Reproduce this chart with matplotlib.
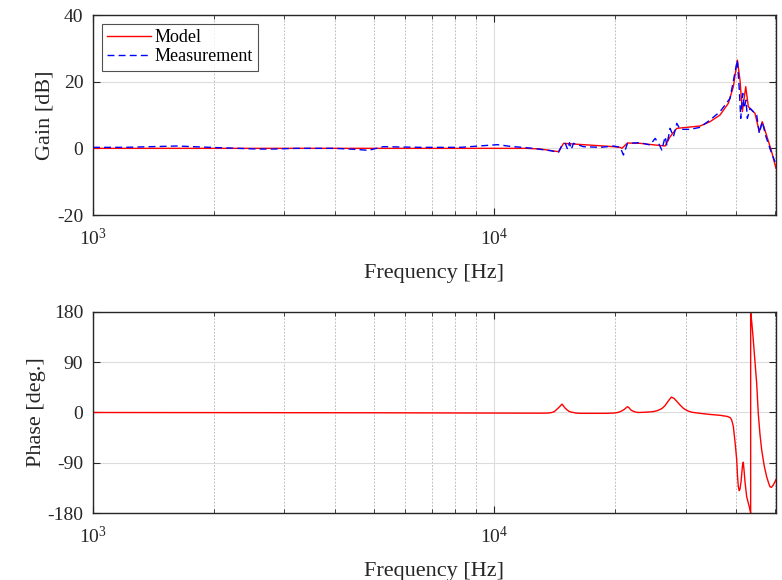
import matplotlib
matplotlib.use("Agg")
import matplotlib.pyplot as plt
from matplotlib.ticker import NullFormatter

# Gain model [Hz], [dB]
model_freq = [1000, 2000, 5000, 10000, 12000, 13010, 14450, 14870, 15750, 19810,
              20580, 20780, 21460, 23080, 25150, 26630, 27410, 28480, 30160, 32540,
              34450, 36490, 38270, 39390, 40300, 40920, 41470, 42290, 42920, 43750,
              44590, 45710, 46490, 47490, 49060, 50300]
model_gain = [0.0, 0.0, 0.0, 0.0, 0.0, -0.2, -1.0, 1.5, 1.3, 0.5,
              0.3, 0.0, 1.6, 1.5, 1.0, 0.7, 3.5, 6.0, 6.3, 6.7,
              8.0, 10.0, 13.5, 18.5, 26.5, 20.5, 11.0, 18.5, 12.5, 11.5,
              10.5, 5.0, 8.0, 4.5, -1.0, -6.0]

# Gain measurement
meas_freq = [1000, 1200, 1617, 1958, 2560, 2810, 3220, 3500, 4000, 4500,
             4850, 5290, 6540, 8230, 10170, 10960, 12500, 13010, 13790, 14450,
             14740, 15020, 15220, 15390, 15540, 15750, 16680, 18350, 19810, 20580,
             20970, 21460, 23080, 24430, 25150, 25780, 26130, 26630, 26890, 27410,
             27930, 28480, 29020, 30720, 32540, 34450, 36490, 38650, 40300, 40760,
             41090, 41560, 41880, 42360, 42680, 43340, 44160, 45030, 45710, 46490,
             47490, 49060, 50000]
meas_gain = [0.3, 0.3, 0.7, 0.3, -0.2, -0.2, 0.0, 0.0, 0.0, -0.3,
             -0.6, 0.5, 0.3, 0.3, 1.1, 0.6, 0.0, -0.3, -0.7, -1.2,
             1.0, 1.5, -0.3, 1.7, -0.3, 1.5, 0.5, 0.3, 0.7, 0.3,
             -2.0, 1.5, 1.7, 1.0, 3.0, 1.0, -0.5, 3.5, 1.0, 6.0,
             3.5, 7.5, 5.7, 5.7, 6.3, 8.5, 11.0, 15.0, 26.5, 17.5,
             9.0, 16.5, 12.0, 14.5, 9.0, 12.0, 11.0, 10.0, 4.5, 8.0,
             3.5, -1.5, -4.0]

# Phase model [deg]
phase_freq = [1000, 5000, 10000, 13000, 13600, 13900, 14100, 14300, 14500, 14650,
              14740, 14850, 15000, 15150, 15350, 15590, 16000, 16380, 19000, 19810,
              20300, 20580, 20850, 21060, 21300, 21460, 21650, 21850, 22000, 22400,
              22830, 23800, 24850, 25500, 26130, 26600, 27080, 27600, 28000, 28480,
              29000, 29620, 30300, 31020, 32540, 34450, 36490, 38000, 38650, 39000,
              39390, 39800, 40160, 40350, 40530, 40750, 40920, 41150, 41330, 41500,
              41700, 41900, 42110, 42520, 43160, 43500, 43500, 43800, 44160, 44600,
              45030, 45440, 45900, 46340, 47000, 47680, 48200, 48590, 49000, 49520,
              50000, 50490]
phase_deg = [0.0, -0.5, -1.0, -1.2, -1.0, 0.0, 1.5, 5.5, 9.5, 13.0,
             15.0, 12.0, 8.0, 5.0, 2.0, 0.5, -1.0, -1.5, -1.5, -1.0,
             0.0, 1.5, 3.5, 5.5, 8.5, 10.4, 8.5, 5.0, 3.5, 1.0,
             0.0, 0.5, 1.5, 3.5, 7.0, 12.0, 20.0, 27.5, 25.5, 20.0,
             13.5, 7.0, 3.0, 0.5, -1.5, -3.5, -5.0, -7.0, -9.0, -13.0,
             -25.0, -55.0, -85.0, -115.0, -133.0, -140.0, -137.0, -125.0, -110.0, -95.0,
             -89.0, -105.0, -124.0, -151.0, -169.0, -180.0, 180.0, 160.0, 130.0, 90.0,
             52.0, -1.5, -40.0, -67.0, -95.0, -115.0, -126.0, -133.0, -134.0, -130.0,
             -124.0, -118.0]

plt.rcParams['font.family'] = ['Liberation Serif', 'DejaVu Serif']
plt.rcParams['mathtext.fontset'] = 'custom'
plt.rcParams['mathtext.rm'] = 'Liberation Serif'
plt.rcParams['axes.unicode_minus'] = False
ax_color = '#262626'

fig = plt.figure(figsize=(7.82, 5.8), dpi=100)
ax1 = fig.add_axes([0.1189, 0.6293, 0.8734, 0.3448])
ax2 = fig.add_axes([0.1189, 0.1155, 0.8734, 0.3466])


def style_axes(ax):
    ax.set_xscale('log')
    ax.set_xlim(1000, 50300)
    ax.grid(True, which='major', color='#dcdcdc', linestyle='-', linewidth=0.8)
    ax.grid(True, which='minor', axis='x', color='#b0b0b0', linestyle=(0, (2, 2)), linewidth=0.6)
    ax.set_axisbelow(True)
    ax.tick_params(which='both', direction='in', top=True, right=True,
                   colors=ax_color, labelsize=14, labelcolor='#262626')
    ax.tick_params(which='major', length=5)
    ax.tick_params(which='minor', length=3)
    ax.tick_params(axis='y', pad=7)
    ax.tick_params(axis='x', pad=9)
    ax.xaxis.set_minor_formatter(NullFormatter())
    ax.set_xticks([1000, 10000])
    ax.set_xticklabels([r'$\mathrm{10^3}$', r'$\mathrm{10^4}$'])
    for s in ax.spines.values():
        s.set_color(ax_color)
        s.set_linewidth(1.0)
    ax.set_xlabel('Frequency [Hz]', fontsize=16, labelpad=11, color='#262626')


style_axes(ax1)
ax1.plot(model_freq, model_gain, color='red', linewidth=1.0, label='Model')
ax1.plot(meas_freq, meas_gain, color='blue', linestyle=(0, (5, 3)), linewidth=1.0,
         label='Measurement')
ax1.set_ylim(-20, 40)
ax1.set_yticks([-20, 0, 20, 40])
ax1.set_ylabel('Gain [dB]', fontsize=16, labelpad=2, color='#262626')
leg = ax1.legend(loc='upper left', fontsize=13, frameon=True, fancybox=False,
                 edgecolor=ax_color, borderpad=0.3, labelspacing=0.1,
                 handlelength=2.4, handletextpad=0.2, borderaxespad=0.5)
leg.get_frame().set_linewidth(0.8)

style_axes(ax2)
ax2.plot(phase_freq, phase_deg, color='red', linewidth=1.0)
ax2.set_ylim(-180, 180)
ax2.set_yticks([-180, -90, 0, 90, 180])
ax2.set_ylabel('Phase [deg.]', fontsize=16, labelpad=1, color='#262626')

fig.savefig('out.png', dpi=100)
